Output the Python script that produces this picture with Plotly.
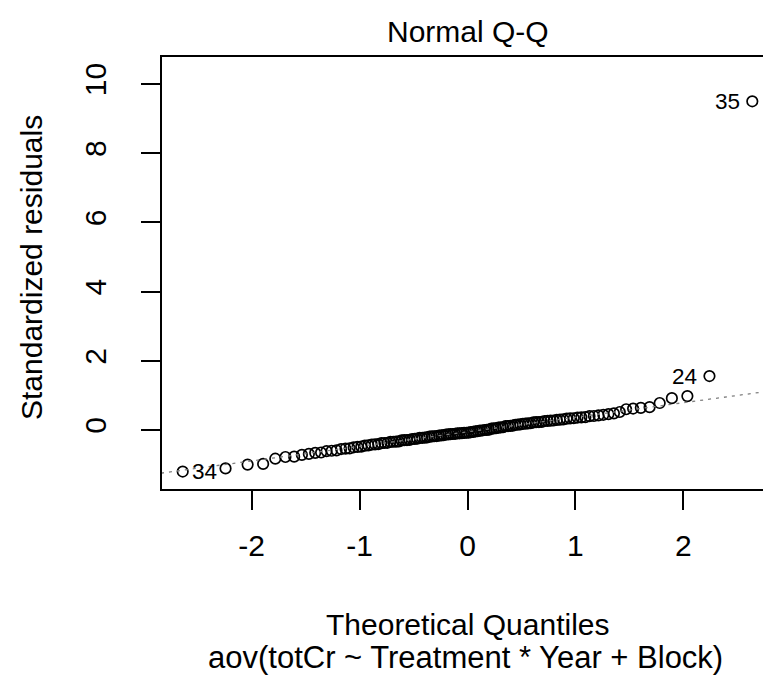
import numpy as np
import plotly.graph_objects as go
from statistics import NormalDist

# Sorted standardized residuals (n = 120)
std_residuals = [
    -1.20, -1.11, -1.00, -0.98, -0.83, -0.78, -0.77, -0.72, -0.69, -0.66,
    -0.65, -0.61, -0.60, -0.59, -0.55, -0.54, -0.53, -0.50, -0.49, -0.48,
    -0.45, -0.445, -0.42, -0.415, -0.41, -0.38, -0.375, -0.37, -0.345, -0.34,
    -0.335, -0.33, -0.30, -0.295, -0.29, -0.285, -0.26, -0.255, -0.25, -0.23,
    -0.225, -0.22, -0.215, -0.19, -0.185, -0.18, -0.175, -0.16, -0.155, -0.15,
    -0.13, -0.125, -0.12, -0.115, -0.11, -0.10, -0.095, -0.09, -0.085, -0.08,
    -0.075, -0.06, -0.055, -0.04, -0.035, -0.02, -0.015, 0.00, 0.005, 0.01,
    0.04, 0.045, 0.05, 0.07, 0.075, 0.08, 0.11, 0.115, 0.12, 0.125,
    0.15, 0.155, 0.16, 0.18, 0.185, 0.19, 0.195, 0.22, 0.225, 0.23,
    0.235, 0.26, 0.265, 0.27, 0.275, 0.29, 0.30, 0.305, 0.33, 0.335,
    0.34, 0.36, 0.365, 0.37, 0.40, 0.405, 0.42, 0.44, 0.46, 0.48,
    0.52, 0.60, 0.62, 0.64, 0.66, 0.78, 0.92, 0.98, 1.56, 9.50,
]
# Observation ids labelled in the plot, keyed by rank position (0-based)
labelled = {0: "34", 118: "24", 119: "35"}

x_ticks = [-2, -1, 0, 1, 2]
y_ticks = [0, 2, 4, 6, 8, 10]
title_text = "Normal Q-Q"
x_title = "Theoretical Quantiles"
sub_title = "aov(totCr ~ Treatment * Year + Block)"
y_title = "Standardized residuals"

# qqnorm theoretical quantiles (ppoints with a = 0.5)
n = len(std_residuals)
nd = NormalDist()
theo_q = [nd.inv_cdf((i + 0.5) / n) for i in range(n)]

# qqline through the quartiles
q1, q3 = np.quantile(std_residuals, [0.25, 0.75])
t1, t3 = nd.inv_cdf(0.25), nd.inv_cdf(0.75)
slope = (q3 - q1) / (t3 - t1)
intercept = q1 - slope * t1
line_x = [-3.5, 3.5]
line_y = [intercept + slope * v for v in line_x]

FONT = "Liberation Sans, Arial, sans-serif"
FS = 30

fig = go.Figure()
fig.add_trace(go.Scatter(
    x=theo_q, y=std_residuals, mode="markers",
    marker=dict(symbol="circle-open", size=10.5, color="black",
                line=dict(color="black", width=1.7)),
    hoverinfo="x+y",
))
fig.add_trace(go.Scatter(
    x=line_x, y=line_y, mode="lines",
    line=dict(color="#7f7f7f", width=1.3, dash="3px,5px"),
    hoverinfo="skip",
))

annotations = []
for idx, lab in labelled.items():
    left_side = theo_q[idx] < 0
    annotations.append(dict(
        x=theo_q[idx], y=std_residuals[idx], xref="x", yref="y",
        text=lab, showarrow=False,
        xanchor="left" if left_side else "right",
        yanchor="middle",
        xshift=7 if left_side else -10,
        font=dict(family=FONT, size=22.5, color="black"),
    ))

# Plot area in page pixels: left 162, right 773, top 57, bottom 489
def px_to_paper_y(p):
    return (489 - p) / 432

def px_to_paper_x(p):
    return (p - 162) / 611

annotations += [
    dict(text=title_text, x=px_to_paper_x(467.5), y=px_to_paper_y(31),
         xref="paper", yref="paper", showarrow=False,
         xanchor="center", yanchor="middle",
         font=dict(family=FONT, size=FS, color="black")),
    dict(text=x_title, x=px_to_paper_x(467.5), y=px_to_paper_y(624),
         xref="paper", yref="paper", showarrow=False,
         xanchor="center", yanchor="middle",
         font=dict(family=FONT, size=FS, color="black")),
    dict(text=sub_title, x=px_to_paper_x(465.5), y=px_to_paper_y(657),
         xref="paper", yref="paper", showarrow=False,
         xanchor="center", yanchor="middle",
         font=dict(family=FONT, size=31, color="black")),
    dict(text=y_title, x=px_to_paper_x(31), y=px_to_paper_y(268),
         xref="paper", yref="paper", showarrow=False, textangle=-90,
         xanchor="center", yanchor="middle",
         font=dict(family=FONT, size=FS, color="black")),
]

fig.update_layout(
    width=771, height=682,
    margin=dict(l=154, r=6, t=49, b=201),
    paper_bgcolor="white", plot_bgcolor="white",
    showlegend=False,
    annotations=annotations,
    xaxis=dict(
        range=[-2.83, 2.83], tickvals=x_ticks, ticktext=[str(v) for v in x_ticks],
        ticks="outside", ticklen=19, tickwidth=1.5, tickcolor="black",
        showline=True, linecolor="black", linewidth=1.5, mirror=True,
        showgrid=False, zeroline=False, ticklabelstandoff=10,
        tickfont=dict(family=FONT, size=FS, color="black"),
    ),
    yaxis=dict(
        range=[-1.705, 10.78], tickvals=y_ticks, ticktext=[str(v) for v in y_ticks],
        ticks="outside", ticklen=19, tickwidth=1.5, tickcolor="black",
        showline=True, linecolor="black", linewidth=1.5,
        showgrid=False, zeroline=False, tickangle=-90, ticklabelstandoff=23,
        tickfont=dict(family=FONT, size=FS, color="black"),
    ),
)

fig.write_html("out.html")
